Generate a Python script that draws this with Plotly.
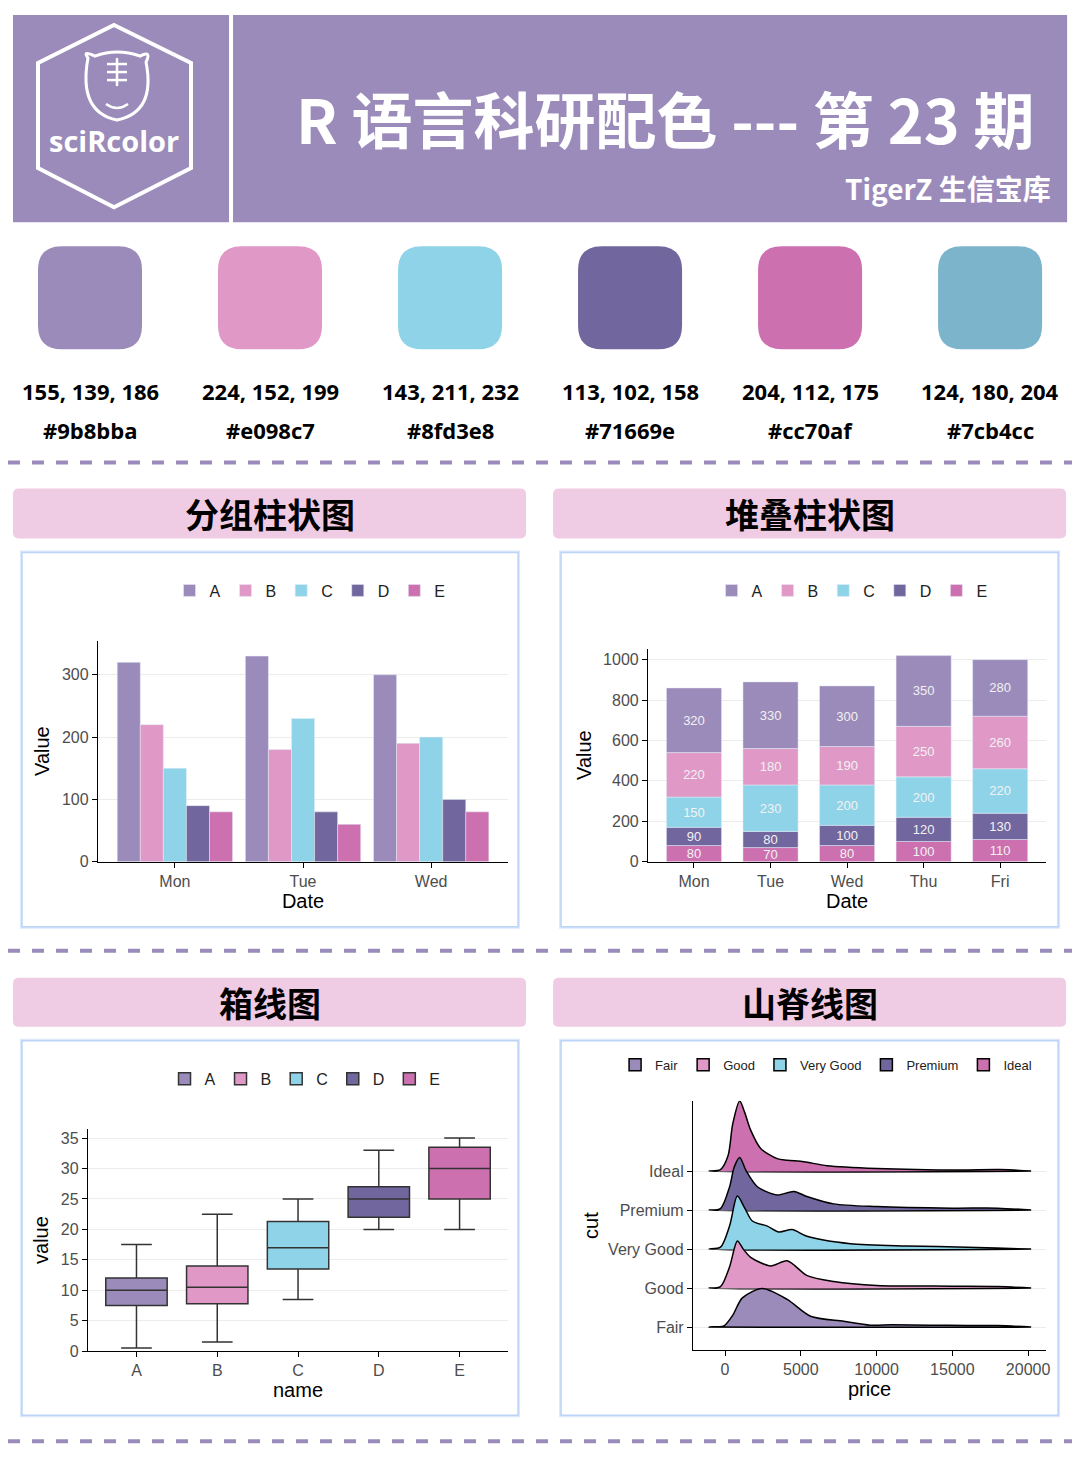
import plotly.graph_objects as go

W, H = 1080, 1460
OFF = 8
SX, SY = 0.9962, 0.993
def px(x): return ((x - OFF) / SX) / W
def py(y): return 1 - ((y - OFF) / SY) / H

colors = ["#9b8bba", "#e098c7", "#8fd3e8", "#71669e", "#cc70af", "#7cb4cc"]
rgb_labels = ["155, 139, 186", "224, 152, 199", "143, 211, 232", "113, 102, 158", "204, 112, 175", "124, 180, 204"]
groups = ["A", "B", "C", "D", "E"]

# grouped bar
days3 = ["Mon", "Tue", "Wed"]
grp_vals = {"A": [320, 330, 300], "B": [220, 180, 190], "C": [150, 230, 200], "D": [90, 80, 100], "E": [80, 60, 80]}
# stacked bar
days5 = ["Mon", "Tue", "Wed", "Thu", "Fri"]
stk_vals = {"A": [320, 330, 300, 350, 280], "B": [220, 180, 190, 250, 260], "C": [150, 230, 200, 200, 220],
            "D": [90, 80, 100, 120, 130], "E": [80, 70, 80, 100, 110]}
# box stats
box_q1 = [7.5, 7.8, 13.5, 22, 25]
box_med = [10, 10.5, 17, 25, 30]
box_q3 = [12, 14, 21.3, 27, 33.5]
box_lo = [0.5, 1.5, 8.5, 20, 20]
box_hi = [17.5, 22.5, 25, 33, 35]
# ridge densities (height in row units)
cuts = ["Fair", "Good", "Very Good", "Premium", "Ideal"]
price_ticks = [0, 5000, 10000, 15000, 20000]
ridge_x = {
    "Ideal": [-1050, -300, 200, 500, 965, 1300, 1690, 2350, 3440, 4100, 5200, 6730, 10000, 15500, 18100, 20200],
    "Premium": [-1050, -300, 300, 600, 965, 1400, 2130, 3440, 4540, 5400, 7170, 10000, 15000, 18000, 20200],
    "Very Good": [-1050, -300, 300, 810, 1300, 1800, 2790, 3550, 4430, 5400, 8270, 12000, 16000, 20200],
    "Good": [-1050, -300, 300, 810, 1200, 1690, 3000, 4100, 5420, 7170, 10000, 15000, 18000, 20200],
    "Fair": [-1050, -500, -70, 500, 1140, 2460, 4100, 5640, 7830, 9580, 11000, 13500, 16000, 18000, 20200],
}
ridge_h = {
    "Ideal": [0, 0.04, 0.4, 1.2, 1.8, 1.5, 1.05, 0.58, 0.32, 0.28, 0.24, 0.14, 0.07, 0.03, 0.04, 0],
    "Premium": [0, 0.04, 0.6, 1.1, 1.35, 1.0, 0.6, 0.39, 0.48, 0.35, 0.16, 0.09, 0.05, 0.05, 0],
    "Very Good": [0, 0.05, 0.6, 1.36, 1.05, 0.72, 0.59, 0.44, 0.5, 0.33, 0.14, 0.08, 0.05, 0],
    "Good": [0, 0.04, 0.55, 1.21, 1.0, 0.79, 0.57, 0.7, 0.32, 0.17, 0.07, 0.05, 0.04, 0],
    "Fair": [0, 0.01, 0.03, 0.3, 0.75, 0.99, 0.71, 0.28, 0.15, 0.05, 0.06, 0.05, 0.04, 0.04, 0],
}
ridge_col = {"Fair": colors[0], "Good": colors[1], "Very Good": colors[2], "Premium": colors[3], "Ideal": colors[4]}

fig = go.Figure()
shapes, ann = [], []

def rect(x0, y0, x1, y1, fill, line=None, lw=0):
    shapes.append(dict(type="rect", xref="paper", yref="paper", x0=px(x0), x1=px(x1), y0=py(y1), y1=py(y0),
                       fillcolor=fill, line=dict(color=line or fill, width=lw), layer="below"))

def rrect(x0, y0, x1, y1, r, fill):
    rx, ry = r / W, r / H
    X0, X1, Y0, Y1 = px(x0), px(x1), py(y1), py(y0)
    p = (f"M {X0+rx},{Y0} L {X1-rx},{Y0} Q {X1},{Y0} {X1},{Y0+ry} L {X1},{Y1-ry} Q {X1},{Y1} {X1-rx},{Y1} "
         f"L {X0+rx},{Y1} Q {X0},{Y1} {X0},{Y1-ry} L {X0},{Y0+ry} Q {X0},{Y0} {X0+rx},{Y0} Z")
    shapes.append(dict(type="path", xref="paper", yref="paper", path=p, fillcolor=fill, line=dict(width=0), layer="below"))

def text(x, y, s, size, color="black", bold=False, xanchor="center", font="Noto Sans CJK SC"):
    ann.append(dict(xref="paper", yref="paper", x=px(x), y=py(y), text=f"<b>{s}</b>" if bold else s, showarrow=False,
                    xanchor=xanchor, yanchor="middle", font=dict(size=size, color=color, family=font)))

# header
rect(13, 15, 229, 222, "#9b8bba")
rect(233, 15, 1067, 222, "#9b8bba")
hexpts = [(114, 25), (191, 63), (191, 168), (114, 207), (38, 168), (38, 63)]
path = "M " + " L ".join(f"{px(a)},{py(b)}" for a, b in hexpts) + " Z"
shapes.append(dict(type="path", xref="paper", yref="paper", path=path, line=dict(color="white", width=4)))
# tiger head
shapes.append(dict(type="path", xref="paper", yref="paper", line=dict(color="white", width=3),
                   path=f"M {px(88)},{py(58)} Q {px(82)},{py(50)} {px(95)},{py(56)} Q {px(117)},{py(48)} {px(140)},{py(56)} "
                        f"Q {px(152)},{py(50)} {px(146)},{py(62)} Q {px(156)},{py(112)} {px(117)},{py(120)} "
                        f"Q {px(78)},{py(112)} {px(88)},{py(58)} Z"))
for yy in (64, 72, 80):
    shapes.append(dict(type="line", xref="paper", yref="paper", x0=px(107), x1=px(127), y0=py(yy), y1=py(yy), line=dict(color="white", width=2.5)))
shapes.append(dict(type="line", xref="paper", yref="paper", x0=px(117), x1=px(117), y0=py(58), y1=py(86), line=dict(color="white", width=2.5)))
shapes.append(dict(type="path", xref="paper", yref="paper", line=dict(color="white", width=2.5),
                   path=f"M {px(106)},{py(104)} Q {px(117)},{py(112)} {px(128)},{py(104)}"))
text(114, 140, "sciRcolor", 29, "white", True, font="Open Sans")
text(665, 117, "R 语言科研配色 --- 第 23 期", 61, "white", True)
text(1053, 188, "TigerZ 生信宝库", 28, "white", True, xanchor="right")

# swatches
for i, c in enumerate(colors):
    cx = 90 + 180 * i
    rrect(cx - 52, 246, cx + 52, 349, 24, c)
    text(cx, 391, rgb_labels[i], 22, bold=True, font="Open Sans")
    text(cx, 430, c, 22, bold=True, font="Open Sans")

for yy in (462, 950, 1440):
    shapes.append(dict(type="line", xref="paper", yref="paper", x0=0, x1=1, y0=py(yy), y1=py(yy),
                       line=dict(color="#9b8bba", width=4, dash="dash")))

panels = [(13, 526, 488, 538, 22, 518, 552, 926, "分组柱状图"), (553, 1066, 488, 538, 561, 1058, 552, 926, "堆叠柱状图"),
          (13, 526, 977, 1026, 22, 518, 1040, 1414, "箱线图"), (553, 1066, 977, 1026, 561, 1058, 1040, 1414, "山脊线图")]
for tx0, tx1, ty0, ty1, bx0, bx1, by0, by1, title in panels:
    rrect(tx0, ty0, tx1, ty1, 6, "#efcbe4")
    text((tx0 + tx1) / 2, (ty0 + ty1) / 2, title, 34, bold=True)
    rect(bx0 - 2, by0 - 2, bx1 + 2, by1 + 2, "#dde9fb")
    rect(bx0, by0, bx1, by1, "white", "#bcd4f6", 1.5)

# grouped bars
for i, g in enumerate(groups):
    fig.add_trace(go.Bar(x=days3, y=grp_vals[g], name=g, marker_color=colors[i], xaxis="x", yaxis="y",
                         legend="legend", offsetgroup=g))
# stacked bars
base = [0] * 5
for i, g in reversed(list(enumerate(groups))):
    fig.add_trace(go.Bar(x=days5, y=stk_vals[g], base=list(base), name=g, marker_color=colors[i], xaxis="x2", yaxis="y2",
                         legend="legend2", offsetgroup="s", width=0.72, text=stk_vals[g], textposition="inside",
                         insidetextanchor="middle", textangle=0, constraintext="none",
                         textfont=dict(color="#f2f2f2", size=13, family="Liberation Sans"), legendrank=i))
    base = [b + v for b, v in zip(base, stk_vals[g])]
# box
for i, g in enumerate(groups):
    fig.add_trace(go.Box(x=[g], q1=[box_q1[i]], median=[box_med[i]], q3=[box_q3[i]], lowerfence=[box_lo[i]],
                         upperfence=[box_hi[i]], name=g, fillcolor=colors[i], line=dict(color="#333333", width=1.5),
                         width=0.76, xaxis="x3", yaxis="y3", legend="legend3"))
# ridges
for c in reversed(cuts):
    k = cuts.index(c)
    xs = ridge_x[c]
    ys = [k + h for h in ridge_h[c]]
    fig.add_trace(go.Scatter(x=xs + [xs[-1], xs[0]], y=ys + [k, k], fill="toself", fillcolor=ridge_col[c], mode="lines",
                             line=dict(color="black", width=1.5, shape="spline", smoothing=0.8), name=c,
                             xaxis="x4", yaxis="y4", showlegend=False))
for k, c in enumerate(cuts):
    fig.add_trace(go.Bar(x=[None], y=[None], name=c, marker=dict(color=ridge_col[c], line=dict(color="black", width=1.5)),
                         xaxis="x4", yaxis="y4", legend="legend4", legendrank=k))

tickf = dict(size=16, color="#4d4d4d", family="Liberation Sans")
titf = dict(size=20, color="black", family="Liberation Sans")
def ax(dom, **kw):
    d = dict(domain=dom, showline=True, linecolor="black", linewidth=1.3, ticks="outside", ticklen=5,
             tickcolor="black", tickfont=tickf, title_font=titf, zeroline=False, showgrid=False)
    d.update(kw)
    return d

grid = dict(showgrid=True, gridcolor="#ececec")
lay = dict(width=W, height=H, margin=dict(l=0, r=0, t=0, b=0), plot_bgcolor="rgba(0,0,0,0)", paper_bgcolor="white",
           barmode="group", bargap=0.1, bargroupgap=0, shapes=shapes, annotations=ann,
           xaxis=ax([px(98), px(508)], range=[-0.6, 2.6], title=dict(text="Date", standoff=2), anchor="y"),
           yaxis=ax([py(861), py(640)], range=[0, 355], tickvals=[0, 100, 200, 300], title=dict(text="Value", standoff=6), anchor="x", **grid),
           xaxis2=ax([px(648), px(1046)], range=[-0.6, 4.6], title=dict(text="Date", standoff=2), anchor="y2"),
           yaxis2=ax([py(861), py(648)], range=[0, 1055], tickvals=[0, 200, 400, 600, 800, 1000], title=dict(text="Value", standoff=6), anchor="x2", **grid),
           xaxis3=ax([px(88), px(508)], range=[-0.6, 4.6], title=dict(text="name", standoff=2), anchor="y3"),
           yaxis3=ax([py(1350), py(1128)], range=[0, 36.5], tickvals=list(range(0, 40, 5)), title=dict(text="value", standoff=6), anchor="x3", **grid),
           xaxis4=ax([px(693), px(1046)], range=[-2112, 21188], tickvals=price_ticks, ticktext=[str(t) for t in price_ticks],
                     title=dict(text="price", standoff=2), anchor="y4"),
           yaxis4=ax([py(1349), py(1100)], range=[-0.59, 5.8], tickvals=[0, 1, 2, 3, 4], ticktext=cuts, title=dict(text="cut", standoff=4), anchor="x4", **grid),
           showlegend=True)
leg = dict(orientation="h", xanchor="center", yanchor="middle", bgcolor="rgba(0,0,0,0)", font=dict(size=16, color="#222", family="Liberation Sans"),
           itemwidth=30)
lay["legend"] = dict(leg, x=px(310), y=py(590))
lay["legend2"] = dict(leg, x=px(852), y=py(590), traceorder="normal")
lay["legend3"] = dict(leg, x=px(305), y=py(1078))
lay["legend4"] = dict(leg, x=px(826), y=py(1064), font=dict(size=13, color="#222", family="Liberation Sans"), traceorder="normal")
fig.update_layout(**lay)
fig.write_html("out.html")
